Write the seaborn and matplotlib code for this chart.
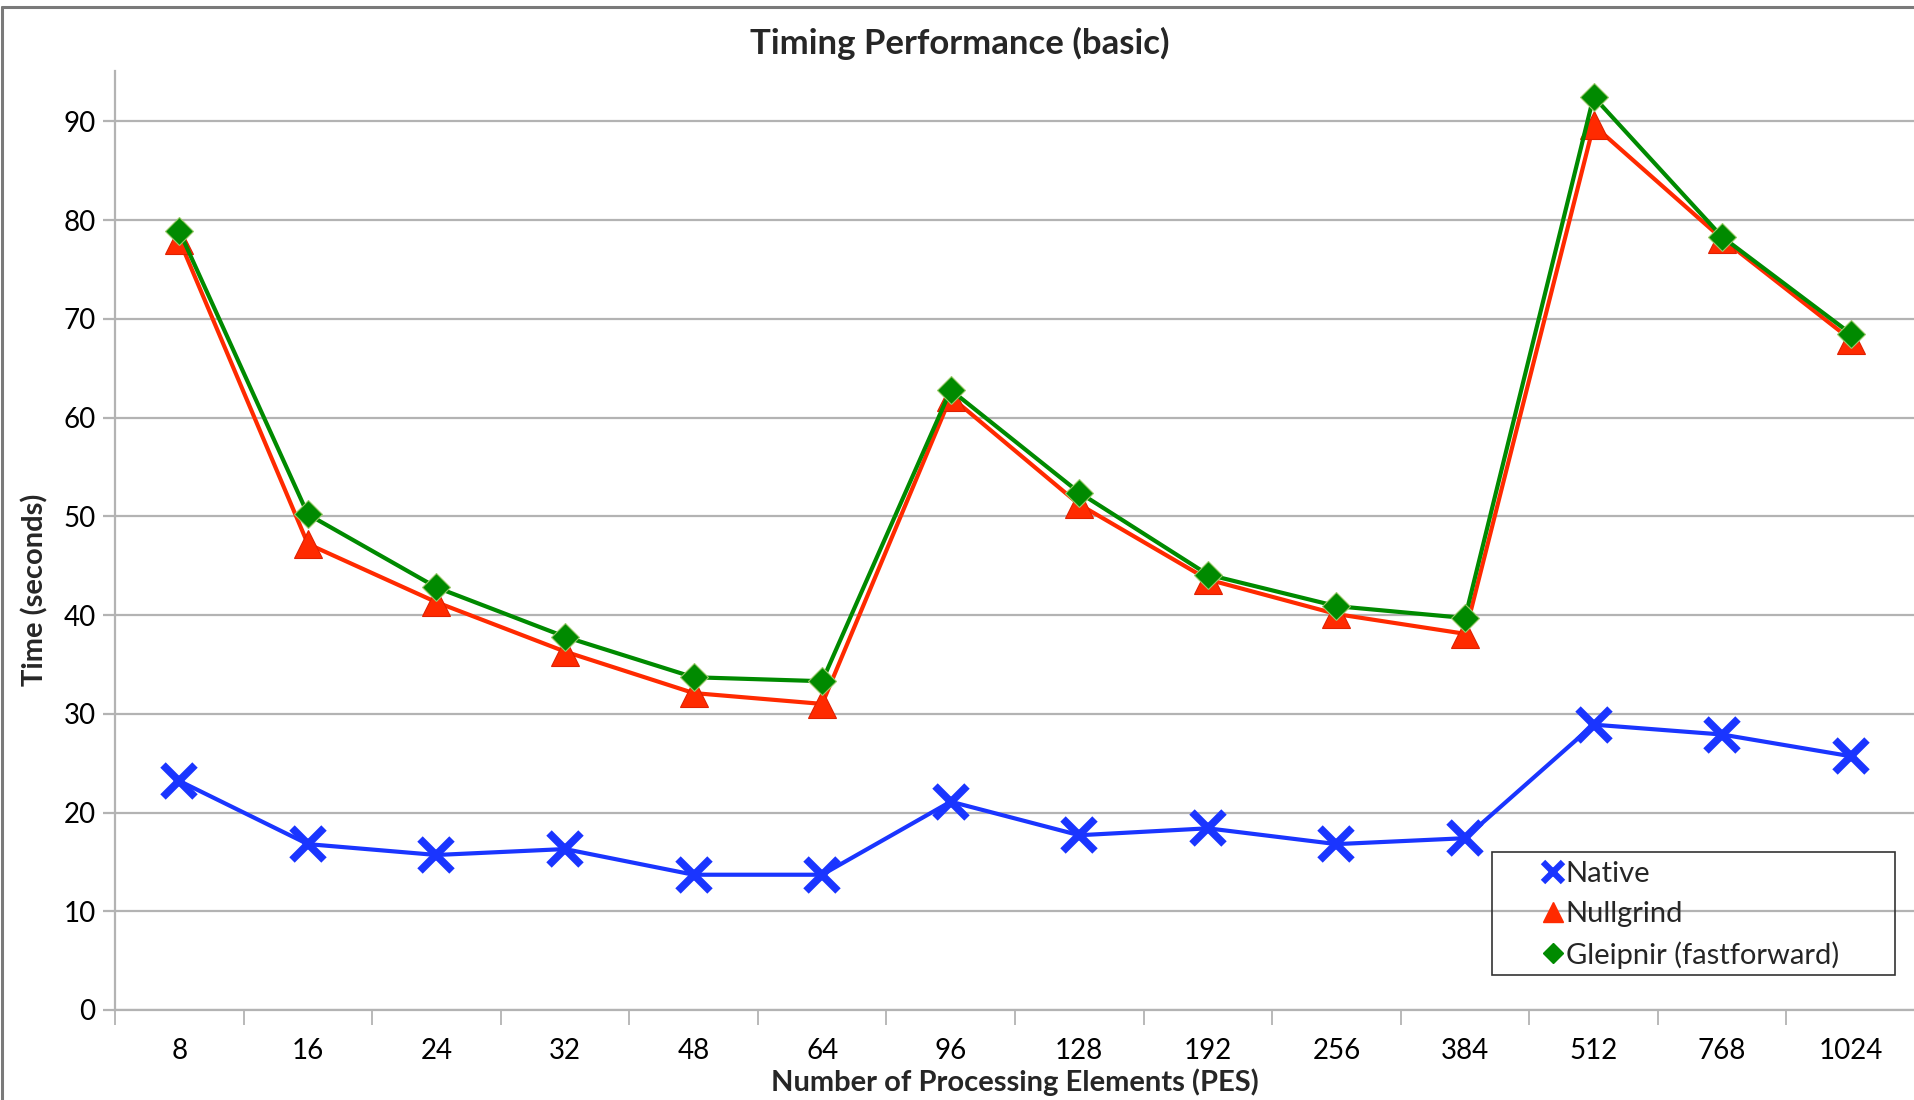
import matplotlib
matplotlib.use("Agg")
import matplotlib.pyplot as plt
from matplotlib.lines import Line2D
from matplotlib.patches import Rectangle
import seaborn as sns
import pandas as pd

# Processing-element counts (categorical x axis)
pes = ["8", "16", "24", "32", "48", "64", "96", "128", "192", "256", "384", "512", "768", "1024"]

# Run times in seconds
native = [23.2, 16.8, 15.7, 16.3, 13.7, 13.7, 21.1, 17.7, 18.4, 16.8, 17.4, 28.9, 27.9, 25.7]
nullgrind = [78.0, 47.2, 41.3, 36.3, 32.1, 31.0, 62.1, 51.2, 43.6, 40.1, 38.1, 89.6, 78.1, 67.9]
gleipnir = [78.9, 50.2, 42.8, 37.8, 33.7, 33.3, 62.8, 52.4, 44.1, 40.9, 39.7, 92.5, 78.3, 68.5]

series_names = ["Native", "Nullgrind", "Gleipnir (fastforward)"]
colors = ["#1a35ff", "#ff2a00", "#008a00"]

sns.set_theme(style="white")
plt.rcParams["font.family"] = ["Lato", "DejaVu Sans"]

df = pd.DataFrame({
    "PES": pes * 3,
    "Time": native + nullgrind + gleipnir,
    "Series": [series_names[0]] * len(pes) + [series_names[1]] * len(pes) + [series_names[2]] * len(pes),
})

W, H = 1915, 1100
fig = plt.figure(figsize=(W / 100, H / 100), dpi=100)
ax = fig.add_axes([115 / W, 1 - 1010 / H, 1 - 115 / W, (1010 - 71) / H])

marker_styles = {
    series_names[0]: dict(marker="x", markersize=23, markeredgewidth=5.5, markeredgecolor=colors[0]),
    series_names[1]: dict(marker="^", markersize=20, markeredgewidth=0.8, markeredgecolor="#e02000"),
    series_names[2]: dict(marker="D", markersize=14, markeredgewidth=0.8, markeredgecolor="#9bc96a"),
}

for name, col in zip(series_names, colors):
    sub = df[df["Series"] == name]
    sns.lineplot(data=sub, x="PES", y="Time", color=col, linewidth=3.0,
                 sort=False, ax=ax, **marker_styles[name])

ax.set_xlim(-0.5, len(pes) - 0.5)
ax.set_ylim(0, 95.1)
ax.set_yticks(range(0, 91, 10))
ax.set_xticks(range(len(pes)))
ax.set_xticklabels(pes)
ax.set_xticks([i + 0.5 for i in range(-1, len(pes))], minor=True)

ax.grid(axis="y", color="#b3b3b3", linewidth=1.6)
ax.set_axisbelow(True)
for side in ["top", "right"]:
    ax.spines[side].set_visible(False)
for side in ["left", "bottom"]:
    ax.spines[side].set_color("#b3b3b3")
    ax.spines[side].set_linewidth(1.6)

ax.tick_params(axis="x", which="major", length=0, pad=20, labelsize=20, colors="black")
ax.tick_params(axis="x", which="minor", length=11, width=1.3, color="#b3b3b3", direction="out", bottom=True)
ax.tick_params(axis="y", which="major", length=9, width=1.6, color="#b3b3b3", direction="out",
               left=True, pad=5, labelsize=20, labelcolor="black")

ax.set_xlabel("")
ax.set_ylabel("")

fig.text(960 / W, 1 - 43 / H, "Timing Performance (basic)", ha="center", va="center",
         fontsize=25, fontweight="bold")
fig.text(1015 / W, 1 - 1082 / H, "Number of Processing Elements (PES)", ha="center",
         va="center", fontsize=21, fontweight="bold")
fig.text(35 / W, 1 - 590 / H, "Time (seconds)", ha="center", va="center", rotation=90,
         fontsize=21, fontweight="bold")

# Legend: entries without a frame, boxed by a separate rectangle
handles = [
    Line2D([], [], linestyle="none", color=colors[0], marker="x", markersize=14, markeredgewidth=4.5),
    Line2D([], [], linestyle="none", color=colors[1], marker="^", markersize=15),
    Line2D([], [], linestyle="none", color=colors[2], marker="D", markersize=10),
]
fig.legend(handles, series_names, loc="center left",
           bbox_to_anchor=(1541 / W, 1 - 915 / H), bbox_transform=fig.transFigure,
           fontsize=21, frameon=False, handlelength=0.8, handletextpad=0.05,
           borderpad=0, labelspacing=0.47, borderaxespad=0)
fig.add_artist(Rectangle((1492 / W, 1 - 975 / H), (1895 - 1492) / W, (975 - 852) / H,
                         transform=fig.transFigure, facecolor="none", edgecolor="#333333",
                         linewidth=1.2, zorder=5))

# Outer chart border along the top and left
fig.add_artist(Line2D([0.0008, 1.0], [1 - 7 / H, 1 - 7 / H], color="#7a7a7a", linewidth=2.2,
                      transform=fig.transFigure))
fig.add_artist(Line2D([0.0008, 0.0008], [0, 1 - 7 / H], color="#7a7a7a", linewidth=2.2,
                      transform=fig.transFigure))

fig.savefig("out.png", dpi=100, facecolor="white")
